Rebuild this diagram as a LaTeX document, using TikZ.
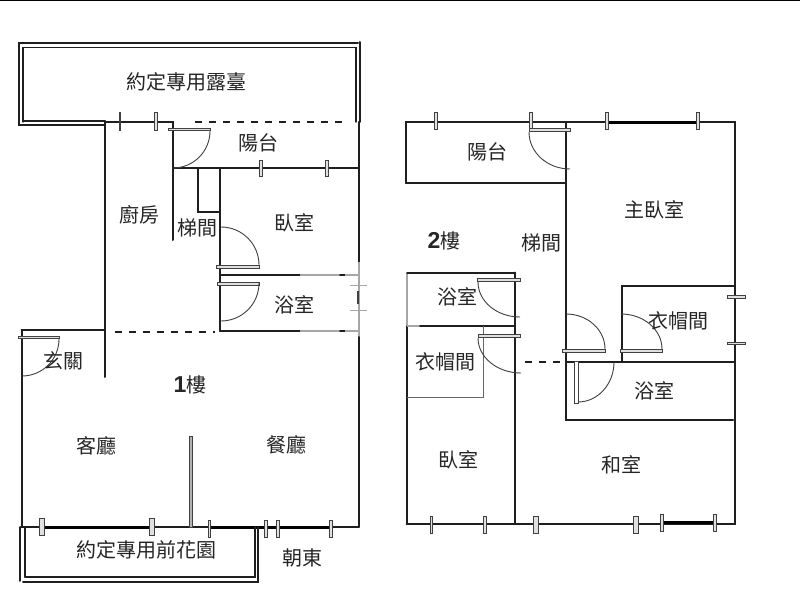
\documentclass[tikz,border=0pt]{standalone}
\usepackage{fontspec}
\setmainfont{Noto Sans CJK TC}
\newfontfamily\latinbold[Scale=1.15]{Liberation Sans Bold}
\tikzset{
  wall/.style={draw=black!88,line width=2pt,line cap=round,line join=miter},
  thinwall/.style={draw=black!60,line width=1pt},
  faint/.style={draw=black!35,line width=1.6pt},
  heavy/.style={draw=black,line width=3pt},
  dashwall/.style={draw=black!88,line width=2pt,dash pattern=on 7pt off 7pt},
  swing/.style={draw=black!75,line width=.9pt},
  win/.style={draw=black!75,line width=1pt,fill=black!12},
  room/.style={font=\fontsize{20}{22}\selectfont,text=black!85,inner sep=0pt},
}
\newcommand{\vwin}[4]{\draw[win] (#1-#4,#2) rectangle (#1+#4,#3);}
\newcommand{\hwin}[3]{\draw[win] (#1,#3-1.2) rectangle (#2,#3+1.2);}
\begin{document}
\begin{tikzpicture}[x=1pt,y=-1pt]
\useasboundingbox (0,0) rectangle (800,599);
\fill[white] (0,0) rectangle (800,599);
\draw[black,line width=1.2pt] (0,0.4) -- (800,0.4);

% --- First floor: terrace
\draw[wall] (105,125.5) -- (19,125.5) -- (19,43.5) -- (358,43.5);
\draw[wall,line width=1.4pt] (23,122) -- (23,47.5) -- (356,47.5) -- (356,122);
\draw[wall] (23,121.5) -- (105,121.5);
\draw[wall] (360,42) -- (360,122);
% outer walls
\draw[wall] (105,122) -- (105,377);
\draw[wall] (105,122) -- (173,122) -- (173,240);
\draw[dashwall] (195,122) -- (345,122);
\draw[wall] (359,122) -- (359,262);
\draw[wall] (173,168) -- (358,168);
\draw[wall] (198,168) -- (198,212) -- (220,212);
\draw[wall] (220,168) -- (220,331);
\draw[wall] (220,275) -- (300,275);
\draw[faint] (300,275) -- (340,275);
\draw[wall] (340,275) -- (345,275);
\draw[faint] (345,275) -- (359,275);
\draw[wall] (220,331) -- (300,331);
\draw[faint] (300,331) -- (340,331);
\draw[wall] (340,331) -- (345,331);
\draw[faint] (345,331) -- (359,331);
\draw[faint] (359,262) -- (359,337);
\draw[faint,line width=1pt] (350,285) -- (367,285) (350,310) -- (367,310);
\draw[swing,line width=1.3pt] (358,291) -- (358,304);
\draw[wall] (359,337) -- (359,527);
\draw[wall] (21.5,330) -- (105,330);
\draw[wall] (21.5,330) -- (21.5,527);
\draw[dashwall] (115,332) -- (215,332);
\draw[wall] (21,527) -- (359,527);
\draw[heavy] (40,527) -- (150,527) (210,527) -- (330,527);
\draw[win,fill=black!30] (189.5,436) rectangle (192.5,527);
% garden
\draw[wall,line width=1.4pt] (20,527) -- (20,581);
\draw[wall,line width=1.4pt] (25,527) -- (25,577);
\draw[wall,line width=1.6pt] (25,577) -- (255,577) -- (255,527);
\draw[wall] (23,581.5) -- (258,581.5) -- (258,527);
% windows first floor
\vwin{120}{113}{131}{.8}
\vwin{156}{113}{131}{1.2}
\vwin{260.5}{160}{176}{1.5}
\vwin{327}{160}{176}{1.5}
\vwin{42}{518}{535}{2.6}
\vwin{152}{518}{535}{2.6}
\vwin{209.5}{520}{537}{1.2}
\vwin{266}{520}{537}{1.2}
\vwin{278}{520}{537}{1.2}
\vwin{331}{520}{537}{1.2}
% doors first floor
\hwin{168}{210}{129.5}
\draw[swing] (210,131) arc[start angle=0,end angle=90,radius=37];
\hwin{216}{259}{267}
\draw[swing] (259,265) arc[start angle=0,end angle=-90,radius=38];
\hwin{217}{259}{284}
\draw[swing] (259,283) arc[start angle=0,end angle=90,radius=38];
\hwin{18}{59}{337.5}
\draw[swing] (59,339) arc[start angle=0,end angle=90,radius=37];

% --- Second floor
\draw[wall] (406,183) -- (406,122) -- (735,122) -- (735,524) -- (406.5,524);
\draw[heavy] (607,122.5) -- (698,122.5) (662,522.5) -- (715,522.5);
\draw[wall] (406,183) -- (566,183);
\draw[wall] (566,122) -- (566,420) -- (733,420);
\draw[faint] (407,272.5) -- (407,325);
\draw[wall] (407,272.5) -- (515,272.5);
\draw[wall] (515,272.5) -- (515,524);
\draw[wall] (407,326) -- (407,524);
\draw[faint] (407,326) -- (420,326);
\draw[wall] (420,326) -- (515,326);
\draw[thinwall] (483,326) -- (483,397) -- (407,397);
\draw[wall] (622,361.5) -- (622,286) -- (735,286);
\draw[wall] (566,361.5) -- (735,361.5);
\draw[dashwall] (525,361.5) -- (566,361.5);
% windows second floor
\vwin{436}{113}{130}{1.5}
\vwin{531}{113}{130}{1.8}
\vwin{607}{113}{130}{1.8}
\vwin{698}{113}{130}{1.8}
\vwin{431.5}{516}{533}{1.2}
\vwin{485}{516}{533}{1.2}
\vwin{536}{516}{533}{2.4}
\vwin{636}{516}{533}{2.4}
\vwin{662}{514}{531}{1.2}
\vwin{715}{514}{531}{1.2}
\hwin{727}{745}{297}
\hwin{727}{745}{343.5}
% doors second floor
\hwin{529}{570}{130}
\draw[swing] (529,132) arc[start angle=180,end angle=90,x radius=41,y radius=37];
\hwin{477}{520}{280}
\draw[swing] (478,282) arc[start angle=180,end angle=90,x radius=42,y radius=35];
\hwin{478}{520}{336}
\draw[swing] (478,338) arc[start angle=180,end angle=90,x radius=43,y radius=35];
\hwin{562}{605}{351}
\draw[swing] (605,349) arc[start angle=0,end angle=-90,x radius=39,y radius=35];
\hwin{620}{662}{351}
\draw[swing] (662,349) arc[start angle=0,end angle=-90,x radius=41,y radius=35];
\draw[win,fill=white] (574.5,361) rectangle (578,403);
\draw[swing] (578,402) arc[start angle=90,end angle=0,x radius=36,y radius=40];

% --- Labels
\node[room] (terrace) at (186,82) {約定專用露臺};
\node[room] (balcony1) at (258,143) {陽台};
\node[room] (kitchen) at (139,215) {廚房};
\node[room] (stair1) at (197,228) {梯間};
\node[room] (bed1) at (294,223) {臥室};
\node[room] (bath1) at (294,305) {浴室};
\node[room] (foyer) at (63,361) {玄關};
\node[room] (floor1) at (190,385) {{\latinbold 1}樓};
\node[room] (living) at (96,446) {客廳};
\node[room] (dining) at (286,445) {餐廳};
\node[room] (garden) at (146,550) {約定專用前花園};
\node[room] (east) at (302,558) {朝東};
\node[room] (balcony2) at (487,152) {陽台};
\node[room] (floor2) at (444,241) {{\latinbold 2}樓};
\node[room] (stair2) at (541,243) {梯間};
\node[room] (master) at (654,210) {主臥室};
\node[room] (bath2) at (457,297) {浴室};
\node[room] (closet1) at (678,321) {衣帽間};
\node[room] (closet2) at (445,362) {衣帽間};
\node[room] (bath3) at (654,391) {浴室};
\node[room] (bed2) at (458,460) {臥室};
\node[room] (japanese) at (621,465) {和室};
\end{tikzpicture}
\end{document}
